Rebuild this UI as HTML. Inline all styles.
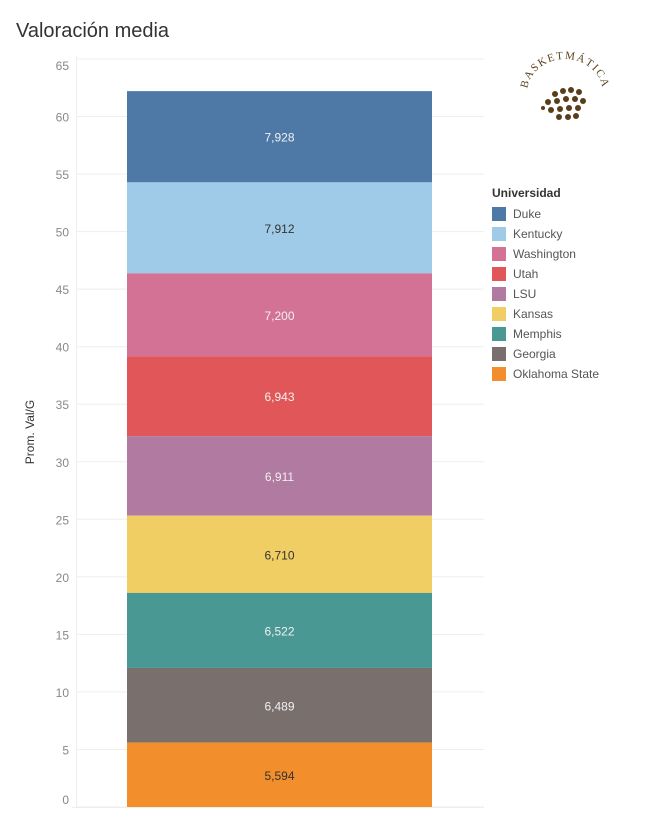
<!DOCTYPE html>
<html><head><meta charset="utf-8"><style>
body{margin:0;background:#fff;font-family:"Liberation Sans","DejaVu Sans",sans-serif;}
#wrap{position:relative;width:649px;height:818px;overflow:hidden;}
.t{position:absolute;left:16px;top:20px;font-size:20px;color:#333;}
.leg{position:absolute;left:492px;top:186px;font-size:12px;color:#555;}
.leg .h{font-weight:bold;color:#333;margin-bottom:4px;}
.it{height:20px;display:flex;align-items:center;}
.sw{width:14px;height:14px;margin-right:7px;}
</style></head><body><div id="wrap">
<div class="t">Valoración media</div>
<svg id="c" width="649" height="818" style="position:absolute;left:0;top:0"></svg>
<svg width="100" height="80" style="position:absolute;left:515px;top:48px">
<defs><path id="arc" d="M12,45 A38,34 0 0 1 88,45"/></defs>
<text font-size="11" fill="#5a3e1b" letter-spacing="1.5" font-family="Liberation Serif"><textPath href="#arc" startOffset="50%" text-anchor="middle">BASKETMÁTICA</textPath></text>
<g fill="#5a3e1b"><circle cx="40" cy="46" r="3"/><circle cx="48" cy="43" r="3"/><circle cx="56" cy="42" r="3"/><circle cx="64" cy="44" r="3"/><circle cx="33" cy="54" r="3"/><circle cx="42" cy="53" r="3"/><circle cx="51" cy="51" r="3"/><circle cx="60" cy="51" r="3"/><circle cx="68" cy="53" r="3"/><circle cx="36" cy="62" r="3"/><circle cx="45" cy="61" r="3"/><circle cx="54" cy="60" r="3"/><circle cx="63" cy="60" r="3"/><circle cx="44" cy="69" r="3"/><circle cx="53" cy="69" r="3"/><circle cx="61" cy="68" r="3"/><circle cx="28" cy="60" r="2"/></g></svg>
<div class="leg"><div class="h">Universidad</div><div id="li"></div></div>
</div>
<script>
const categories=["Duke","Kentucky","Washington","Utah","LSU","Kansas","Memphis","Georgia","Oklahoma State"];
const values=[7.928,7.912,7.200,6.943,6.911,6.710,6.522,6.489,5.594];
const labels=["7,928","7,912","7,200","6,943","6,911","6,710","6,522","6,489","5,594"];
const ticks=[0,5,10,15,20,25,30,35,40,45,50,55,60,65];
const colors=["#4e79a7","#a0cbe8","#d37295","#e15759","#b07aa1","#f1ce63","#499894","#79706e","#f28e2b"];
const dark=[false,true,false,false,false,true,false,false,true];
const NS="http://www.w3.org/2000/svg",svg=document.getElementById('c');
const y=v=>807-v*(748/65);
function mk(t,a){const e=document.createElementNS(NS,t);for(const k in a)e.setAttribute(k,a[k]);svg.appendChild(e);return e;}
ticks.forEach((t,i)=>{
const g=mk('line',{x1:76,x2:484,y1:y(t),y2:y(t),stroke:'#eee'});


let off=5; if(i===0)off=-3; if(i===ticks.length-1)off=11;
const l=mk('text',{x:69,y:y(t)+off,'text-anchor':'end','font-size':12,fill:'#888'});l.textContent=t;


});
mk('line',{x1:76.5,x2:76.5,y1:56,y2:807,stroke:'#eee'});
mk('line',{x1:72,x2:484,y1:807.5,y2:807.5,stroke:'#eee'});
const yt=mk('text',{transform:'translate(34,432) rotate(-90)','text-anchor':'middle','font-size':12,fill:'#333'});yt.textContent='Prom. Val/G';


let cum=values.reduce((a,b)=>a+b,0);
const li=document.getElementById('li');
categories.forEach((c,i)=>{
const top=cum,bot=cum-values[i];cum=bot;
const r=mk('rect',{x:127,width:305,y:y(top),height:y(bot)-y(top),fill:colors[i]});


const t=mk('text',{x:279.5,y:(y(top)+y(bot))/2+5,'text-anchor':'middle','font-size':12,fill:dark[i]?'#333':'#f0f0f0'});t.textContent=labels[i];


const d=document.createElement('div');d.className='it';


d.innerHTML='<div class="sw" style="background:'+colors[i]+'"></div>'+c;li.appendChild(d);
});
</script></body></html>
